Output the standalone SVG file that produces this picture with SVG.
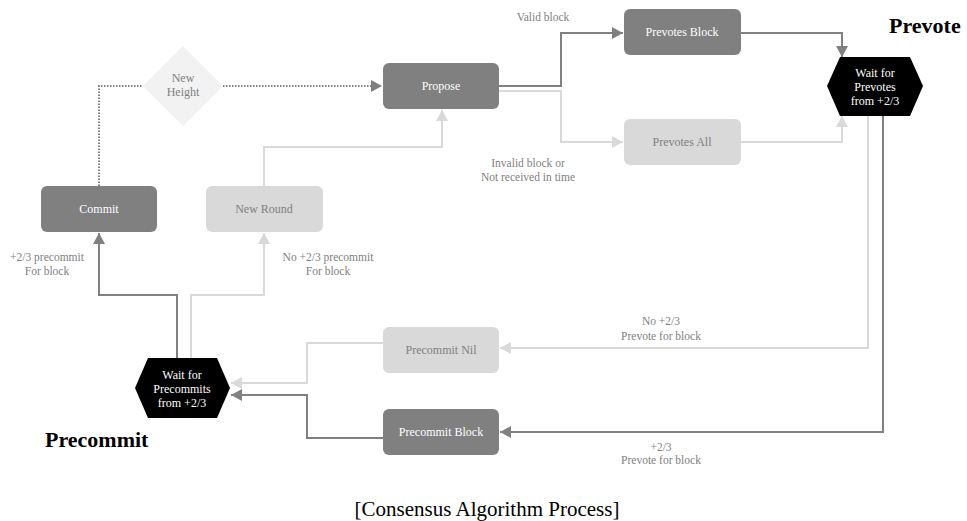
<svg xmlns="http://www.w3.org/2000/svg" width="967" height="521" viewBox="0 0 967 521">
  <style>
    text { font-family: "Liberation Serif", "DejaVu Serif", serif; }
    .t { font-size: 12px; text-anchor: middle; }
    .w { fill: #ffffff; }
    .g { fill: #808080; }
    .lbl { font-size: 11.5px; fill: #808080; text-anchor: middle; }
    .title { font-size: 22px; font-weight: bold; fill: #000000; }
    .cap { font-size: 21px; fill: #000000; text-anchor: middle; }
    .dark { fill: #808080; }
    .light { fill: #d9d9d9; }
    .c { fill: none; stroke-width: 2; }
    .cd { stroke: #808080; }
    .cl { stroke: #d9d9d9; }
    .dot { fill: none; stroke: #808080; stroke-width: 2; stroke-dasharray: 1.5 1.5; }
  </style>
  <defs>
    <marker id="ad" markerUnits="userSpaceOnUse" markerWidth="12" markerHeight="12" refX="11" refY="6" orient="auto">
      <path d="M0,0 L11,6 L0,12 Z" fill="#808080"/>
    </marker>
    <marker id="al" markerUnits="userSpaceOnUse" markerWidth="12" markerHeight="12" refX="11" refY="6" orient="auto">
      <path d="M0,0 L11,6 L0,12 Z" fill="#d9d9d9"/>
    </marker>
  </defs>
  <rect width="967" height="521" fill="#ffffff"/>

  <g id="connectors">
    <path class="dot" d="M99,186 V86 H143"/>
    <path class="dot" d="M223,86 H382" marker-end="url(#ad)"/>
    <path class="c cd" d="M499,86 H561 V33 H623" marker-end="url(#ad)"/>
    <path class="c cl" d="M499,91 H561 V142 H623" marker-end="url(#al)"/>
    <path class="c cd" d="M741,33 H842 V57" marker-end="url(#ad)"/>
    <path class="c cl" d="M741,142 H842 V116" marker-end="url(#al)"/>
    <path class="c cl" d="M868,116 V348 H500" marker-end="url(#al)"/>
    <path class="c cd" d="M883,116 V432 H500" marker-end="url(#ad)"/>
    <path class="c cl" d="M383,343 H307 V383 H231" marker-end="url(#al)"/>
    <path class="c cd" d="M383,438 H307 V395 H231" marker-end="url(#ad)"/>
    <path class="c cd" d="M177,358 V295 H99 V233" marker-end="url(#ad)"/>
    <path class="c cl" d="M191,358 V295 H264 V233" marker-end="url(#al)"/>
    <path class="c cl" d="M264,186 V147 H442 V110" marker-end="url(#al)"/>
  </g>

  <g id="new-height">
    <polygon points="183,46 223,86 183,126 143,86" fill="#f2f2f2"/>
    <text class="t g" x="183" y="82">New</text>
    <text class="t g" x="183" y="96">Height</text>
  </g>
  <g id="commit">
    <rect class="dark" x="41" y="186" width="116" height="46" rx="6"/>
    <text class="t w" x="99" y="213">Commit</text>
  </g>
  <g id="new-round">
    <rect class="light" x="206" y="186" width="117" height="46" rx="6"/>
    <text class="t g" x="264" y="213">New Round</text>
  </g>
  <g id="propose">
    <rect class="dark" x="383" y="63" width="116" height="46" rx="6"/>
    <text class="t w" x="441" y="90">Propose</text>
  </g>
  <g id="prevotes-block">
    <rect class="dark" x="624" y="9" width="117" height="46" rx="6"/>
    <text class="t w" x="682" y="36">Prevotes Block</text>
  </g>
  <g id="prevotes-all">
    <rect class="light" x="624" y="119" width="117" height="46" rx="6"/>
    <text class="t g" x="682" y="146">Prevotes All</text>
  </g>
  <g id="wait-prevotes">
    <polygon points="827,86 840,57 910,57 923,86 910,116 840,116" fill="#000000"/>
    <text class="t w" x="875" y="77">Wait for</text>
    <text class="t w" x="875" y="91">Prevotes</text>
    <text class="t w" x="875" y="105">from +2/3</text>
  </g>
  <g id="precommit-nil">
    <rect class="light" x="383" y="327" width="116" height="46" rx="6"/>
    <text class="t g" x="441" y="354">Precommit Nil</text>
  </g>
  <g id="precommit-block">
    <rect class="dark" x="383" y="409" width="116" height="46" rx="6"/>
    <text class="t w" x="441" y="436">Precommit Block</text>
  </g>
  <g id="wait-precommits">
    <polygon points="135,388 148,358 217,358 230,388 217,418 148,418" fill="#000000"/>
    <text class="t w" x="182" y="379">Wait for</text>
    <text class="t w" x="182" y="393">Precommits</text>
    <text class="t w" x="182" y="407">from +2/3</text>
  </g>

  <g id="labels">
    <text class="lbl" x="543" y="21">Valid block</text>
    <text class="lbl" x="528" y="167">Invalid block or</text>
    <text class="lbl" x="528" y="181">Not received in time</text>
    <text class="lbl" x="47" y="261">+2/3 precommit</text>
    <text class="lbl" x="47" y="275">For block</text>
    <text class="lbl" x="328" y="261">No +2/3 precommit</text>
    <text class="lbl" x="328" y="275">For block</text>
    <text class="lbl" x="661" y="325">No +2/3</text>
    <text class="lbl" x="661" y="340">Prevote for block</text>
    <text class="lbl" x="661" y="451">+2/3</text>
    <text class="lbl" x="661" y="464">Prevote for block</text>
    <text class="title" x="889" y="33">Prevote</text>
    <text class="title" x="45" y="447">Precommit</text>
    <text class="cap" x="487" y="516">[Consensus Algorithm Process]</text>
  </g>
</svg>
